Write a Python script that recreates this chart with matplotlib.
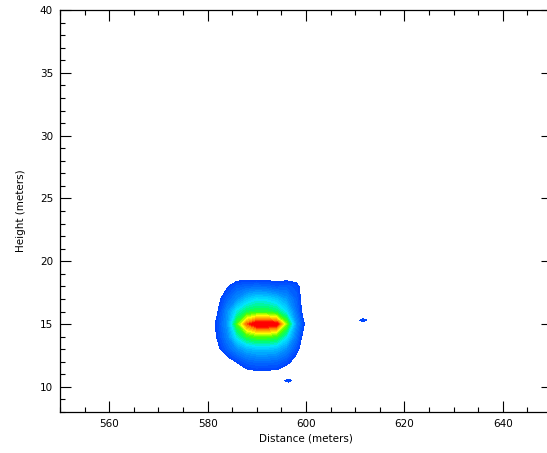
import numpy as np
import matplotlib
matplotlib.use("Agg")
import matplotlib.pyplot as plt
from matplotlib.colors import LinearSegmentedColormap
from matplotlib.ticker import MultipleLocator

# grid of the main echo (distance in m, height in m)
dist = [580, 582, 584, 586, 588, 590, 592, 594, 596, 598, 600]
height = [10, 11, 12, 13, 14, 15, 16, 17, 18, 19]
power = [
    [0.0, 0.0, 0.0, 0.0, 0.0, 0.0, 0.0, 0.0, 0.0, 0.0, 0.0],   # 10
    [0.0, 0.0, 0.0, 0.0, 0.4, 0.6, 0.5, 0.5, 0.0, 0.0, 0.0],   # 11
    [0.0, 0.0, 0.4, 1.1, 1.8, 2.0, 2.0, 1.9, 1.4, 0.5, 0.0],   # 12
    [0.0, 0.7, 1.8, 2.8, 3.5, 3.8, 3.8, 3.6, 2.8, 1.4, 0.0],   # 13
    [0.0, 1.1, 2.6, 4.7, 6.0, 6.4, 6.4, 6.1, 4.6, 2.3, 0.0],   # 14
    [0.0, 1.3, 3.0, 6.3, 8.8, 10.0, 10.0, 9.7, 6.8, 3.0, 0.6], # 15
    [0.0, 0.9, 2.8, 4.6, 5.6, 5.9, 5.9, 5.5, 4.3, 2.2, 0.0],   # 16
    [0.0, 0.6, 1.8, 2.8, 3.8, 4.3, 4.2, 3.8, 3.0, 1.8, 0.0],   # 17
    [0.0, 0.0, 0.9, 1.7, 1.9, 2.0, 1.9, 1.6, 1.8, 1.4, 0.0],   # 18
    [0.0, 0.0, 0.0, 0.0, 0.0, 0.0, 0.0, 0.0, 0.0, 0.0, 0.0],   # 19
]

# two small isolated returns
speck1_dist = [609.6, 611.6, 613.6]
speck1_height = [14.8, 15.3, 15.8]
speck1_power = [[0.0, 0.0, 0.0], [0.55, 1.3, 0.55], [0.0, 0.0, 0.0]]

speck2_dist = [594.4, 596.4, 598.4]
speck2_height = [10.0, 10.5, 11.0]
speck2_power = [[0.0, 0.0, 0.0], [0.44, 1.3, 0.44], [0.0, 0.0, 0.0]]

cmap = LinearSegmentedColormap.from_list("idl_rainbow", [
    (0.00, (0.0, 0.25, 1.0)),
    (0.20, (0.0, 0.55, 1.0)),
    (0.38, (0.0, 0.9, 1.0)),
    (0.50, (0.0, 1.0, 0.4)),
    (0.60, (0.3, 1.0, 0.0)),
    (0.72, (1.0, 1.0, 0.0)),
    (0.85, (1.0, 0.5, 0.0)),
    (0.93, (1.0, 0.0, 0.0)),
    (1.00, (1.0, 0.0, 0.0)),
])
levels = np.linspace(1.0, 10.0, 31)

fig = plt.figure(figsize=(5.47, 4.53), dpi=100)
ax = fig.add_axes([60 / 547, 41 / 453, 492 / 547, 402 / 453])

ax.contourf(dist, height, power, levels=levels, cmap=cmap, vmin=1, vmax=10)
ax.contourf(speck1_dist, speck1_height, speck1_power, levels=levels, cmap=cmap, vmin=1, vmax=10)
ax.contourf(speck2_dist, speck2_height, speck2_power, levels=levels, cmap=cmap, vmin=1, vmax=10)

ax.set_xlim(550, 650)
ax.set_ylim(8, 40)
ax.xaxis.set_major_locator(MultipleLocator(20))
ax.xaxis.set_minor_locator(MultipleLocator(5))
ax.yaxis.set_major_locator(MultipleLocator(5))
ax.yaxis.set_minor_locator(MultipleLocator(1))
ax.tick_params(which="both", direction="in", top=True, right=True,
               labelsize=7.5, width=0.8, pad=5)
ax.tick_params(which="major", length=8)
ax.tick_params(which="minor", length=3.5)
for sp in ax.spines.values():
    sp.set_linewidth(0.9)

ax.set_xlabel("Distance (meters)", fontsize=7.5, labelpad=3)
ax.set_ylabel("Height (meters)", fontsize=7.5, labelpad=10)

fig.savefig("out.png", dpi=100)
